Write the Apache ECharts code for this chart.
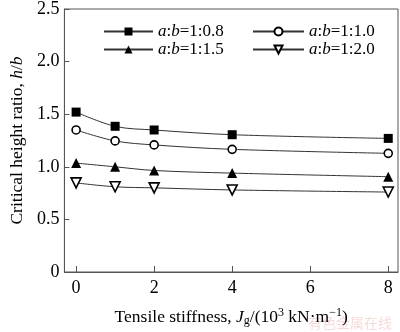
<!DOCTYPE html>
<html><head><meta charset="utf-8">
<script src="https://cdn.jsdelivr.net/npm/echarts@6/dist/echarts.min.js"></script>
<style>html,body{margin:0;padding:0;background:#fff}#c{width:400px;height:332px}</style>
</head><body><div id="c"></div>
<script>
const xValues = [0, 1, 2, 4, 8];
const xTicks = [0, 2, 4, 6, 8];
const seriesNames = ['a:b=1:0.8', 'a:b=1:1.0', 'a:b=1:1.5', 'a:b=1:2.0'];
const s08 = [1.52, 1.385, 1.35, 1.305, 1.27];
const s10 = [1.35, 1.246, 1.208, 1.166, 1.128];
const s15 = [1.035, 1.0, 0.965, 0.94, 0.906];
const s20 = [0.847, 0.81, 0.80, 0.78, 0.76];

const font = '"Liberation Serif","Times New Roman",serif';
const pair = v => xValues.map((x, i) => [x, v[i]]);
const invTri = 'path://M0,0 L10,0 L5,9 Z';

function mk(name, data, symbol, size, filled) {
  return {
    name, type: 'line', data: pair(data), smooth: 0.35,
    symbol, symbolSize: size, showSymbol: true,
    lineStyle: { color: '#333', width: 1 },
    itemStyle: filled ? { color: '#000', borderColor: '#000', borderWidth: 0 }
                      : { color: '#fff', borderColor: '#000', borderWidth: 1.6 },
    emphasis: { disabled: true }
  };
}

const legendFmt = n => {
  const p = n.split('=');
  return '{i|a}:{i|b}=' + p[1];
};
const legendText = {
  fontFamily: font, fontSize: 17, color: '#000',
  rich: { i: { fontFamily: font, fontSize: 17, fontStyle: 'italic', color: '#000' } }
};

const chart = echarts.init(document.getElementById('c'), null, { renderer: 'canvas' });
chart.setOption({
  animation: false,
  backgroundColor: '#fff',
  grid: { left: 53, top: 4, right: 2, bottom: 50, show: true, borderColor: '#555', borderWidth: 1 },
  legend: [
    { data: [seriesNames[0], seriesNames[2]], orient: 'vertical', left: 98, top: 18,
      itemWidth: 49, itemHeight: 10, itemGap: 1, formatter: legendFmt, textStyle: legendText, selectedMode: false },
    { data: [seriesNames[1], seriesNames[3]], orient: 'vertical', left: 247, top: 18,
      itemWidth: 51, itemHeight: 10, itemGap: 1, formatter: legendFmt, textStyle: legendText, selectedMode: false }
  ],
  xAxis: {
    type: 'value', min: -0.3, max: 8.25,
    axisLine: { show: true, onZero: false, lineStyle: { color: '#555', width: 1 } },
    axisTick: { show: true, inside: true, length: 6, customValues: xTicks, lineStyle: { color: '#555' } },
    axisLabel: { customValues: xTicks, fontFamily: font, fontSize: 18, color: '#000', margin: 7 },
    splitLine: { show: false },
    name: 'Tensile stiffness, {i|J}{sub|g}/(10{sup|3} kN·m{sup|−1})',
    nameLocation: 'middle', nameGap: 35,
    nameTextStyle: {
      fontFamily: font, fontSize: 17.5, color: '#000',
      rich: {
        i: { fontFamily: font, fontSize: 17.5, fontStyle: 'italic', color: '#000' },
        sub: { fontFamily: font, fontSize: 12, color: '#000', verticalAlign: 'bottom', padding: [8, 0, 0, 0] },
        sup: { fontFamily: font, fontSize: 12, color: '#000', verticalAlign: 'top', padding: [0, 0, 6, 0] }
      }
    }
  },
  yAxis: {
    type: 'value', min: 0, max: 2.5, interval: 0.5,
    axisLine: { show: true, onZero: false, lineStyle: { color: '#555', width: 1 } },
    axisTick: { show: true, inside: true, length: 5, lineStyle: { color: '#555' } },
    axisLabel: { fontFamily: font, fontSize: 18, color: '#000', margin: 5,
      formatter: v => v === 0 ? '0' : v.toFixed(1) },
    splitLine: { show: false },
    name: 'Critical height ratio, {i|h}/{i|b}',
    nameLocation: 'middle', nameGap: 38, nameRotate: 90,
    nameTextStyle: {
      fontFamily: font, fontSize: 17.5, color: '#000',
      rich: { i: { fontFamily: font, fontSize: 17.5, fontStyle: 'italic', color: '#000' } }
    }
  },
  series: [
    mk(seriesNames[0], s08, 'rect', 9, true),
    mk(seriesNames[1], s10, 'circle', 8, false),
    mk(seriesNames[2], s15, 'triangle', 10, true),
    mk(seriesNames[3], s20, invTri, 10, false)
  ],
  graphic: [{
    type: 'text', right: 8, bottom: 2,
    style: { text: '有色金属在线', fontFamily: '"Noto Sans CJK SC"', fontSize: 14, fill: 'rgba(230,150,150,0.35)' }
  }]
});
</script>
</body></html>
